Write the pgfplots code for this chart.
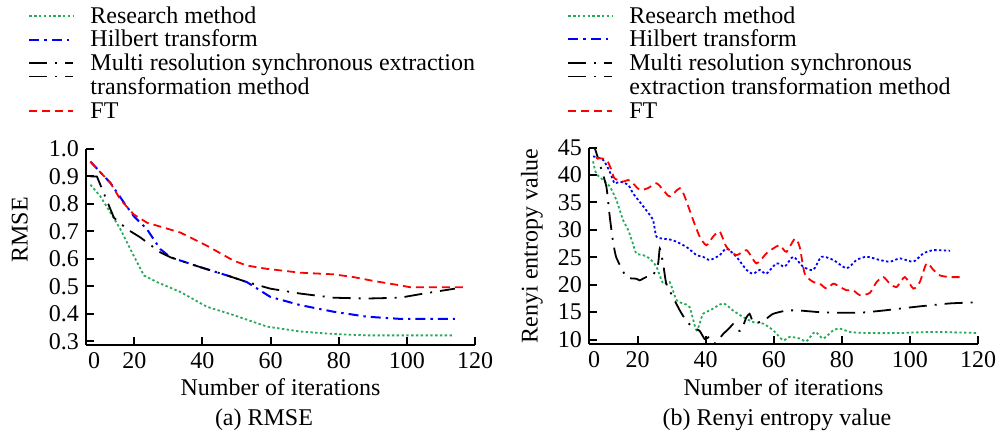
\documentclass[border=0pt]{standalone}
\usepackage{fontspec}
\setmainfont{Liberation Serif}
\usepackage{pgfplots}
\pgfplotsset{compat=1.18}

\definecolor{resgreen}{RGB}{40,170,90}
\newcommand{\ls}{\rule[-3.9pt]{0pt}{12.8pt}}

\pgfplotsset{
  panel/.style={
    scale only axis, width=194.5pt,
    axis lines=left, axis line style={line width=1pt,-},
    tick align=inside, major tick length=4pt,
    tick style={line width=1pt,black},
    xmax=120, xtick={20,40,...,120},
    /pgf/number format/assume math mode=true,
    tick label style={font=\fontsize{12}{12.5}\selectfont},
    label style={font=\fontsize{12}{12.5}\selectfont},
    xlabel={Number of iterations},
    legend style={draw=none, fill=none, inner sep=0pt, row sep=1.5pt, column sep=8pt,
      font=\fontsize{12}{12.8}\selectfont, nodes={inner sep=0pt},
      cells={anchor=west}, anchor=north west},
    legend image code/.code={\draw[#1] (0pt,0pt) -- (22pt,0pt);},
    extra x tick style={major tick length=0pt},
  },
  % legend sample drawn half a row lower, between the two lines of its entry
  lowsample/.style={legend image code/.code={
      \path (0pt,0pt) -- (22pt,0pt);
      \draw[##1, overlay] (0pt,-6.6pt) -- (22pt,-6.6pt);}},
  resm/.style={color=resgreen, line width=0.9pt, dash pattern=on 1.2pt off 1.2pt},
  hilb/.style={color=blue, line width=1pt, dash pattern=on 5pt off 2.5pt on 1.2pt off 2.5pt},
  hilbdot/.style={color=blue, line width=0.9pt, dash pattern=on 1.2pt off 1.2pt},
  mrse/.style={color=black, line width=0.9pt, dash pattern=on 9pt off 4pt on 1pt off 4pt},
  ftm/.style={color=red, line width=0.9pt, dash pattern=on 4pt off 2.5pt},
}

\begin{document}
\begin{tikzpicture}
\useasboundingbox (0,0) rectangle (501.5pt,-218.5pt);

% (a) RMSE
\begin{axis}[panel,
  at={(43pt,-172.5pt)}, anchor=south west,
  height=98pt,
  xmin=5.8, ymin=0.287, ymax=1.0,
  extra x ticks={8.2}, extra x tick labels={0},
  ytick={0.3,0.4,...,1.0},
  yticklabel style={/pgf/number format/.cd, fixed, fixed zerofill, precision=1},
  ylabel={RMSE},
  ylabel style={at={(axis description cs:-0.17,0.587)}, anchor=center},
  xlabel style={at={(axis description cs:0.5,-0.214)}, anchor=center},
  legend style={at={(axis description cs:-0.149,1.735)}},
]
\addlegendimage{resm}\addlegendentry{\ls Research method}
\addlegendimage{hilb}\addlegendentry{\ls Hilbert transform}
\addlegendimage{mrse, lowsample}\addlegendentry{\ls Multi resolution synchronous extraction}
\addlegendimage{empty legend}\addlegendentry{\ls transformation method}
\addlegendimage{ftm}\addlegendentry{\ls FT}
\addplot[resm, forget plot] coordinates {(7.1,0.87)(10,0.828)(13,0.768)(15.9,0.708)(19.8,0.612)(22.8,0.54)(26.6,0.516)(33.5,0.48)(41.3,0.426)(49.1,0.396)(58.9,0.354)(68.7,0.336)(78.5,0.327)(88.2,0.322)(113.6,0.322)};
\addplot[hilb, forget plot] coordinates {(7.1,0.954)(13,0.876)(17,0.804)(19.8,0.756)(23.7,0.708)(27.6,0.636)(30.6,0.606)(39.4,0.57)(47.2,0.54)(53,0.516)(59.9,0.462)(68.7,0.432)(78.5,0.408)(88.2,0.39)(98,0.382)(114.1,0.382)};
\addplot[mrse, forget plot] coordinates {(7.1,0.90)(9,0.90)(10,0.87)(14,0.75)(17.9,0.708)(21.8,0.678)(27.6,0.624)(30.6,0.606)(39.4,0.57)(47.2,0.54)(53,0.516)(59.9,0.492)(68.7,0.474)(78.5,0.459)(88.2,0.456)(98,0.459)(104.9,0.474)(114.1,0.492)};
\addplot[ftm, forget plot] coordinates {(7.1,0.954)(13,0.876)(15.9,0.816)(19.8,0.762)(23.7,0.732)(33.5,0.696)(41.3,0.648)(49.1,0.594)(53,0.576)(58.9,0.564)(68.7,0.55)(78.5,0.544)(84.3,0.534)(90.2,0.52)(98,0.504)(101,0.497)(116.6,0.497)};
\end{axis}

% (b) Renyi entropy value
\begin{axis}[panel,
  at={(294.5pt,-172pt)}, anchor=south west,
  height=98.2pt,
  xmin=5.7, ymin=9.2, ymax=45,
  extra x ticks={7.2}, extra x tick labels={0},
  ytick={10,15,...,45},
  ylabel={Renyi entropy value},
  ylabel style={at={(axis description cs:-0.147,0.5)}, anchor=center},
  xlabel style={at={(axis description cs:0.5,-0.219)}, anchor=center},
  legend style={at={(axis description cs:-0.0566,1.727)}},
]
\addlegendimage{resm}\addlegendentry{\ls Research method}
\addlegendimage{hilb}\addlegendentry{\ls Hilbert transform}
\addlegendimage{mrse, lowsample}\addlegendentry{\ls Multi resolution synchronous}
\addlegendimage{empty legend}\addlegendentry{\ls extraction transformation method}
\addlegendimage{ftm}\addlegendentry{\ls FT}
\addplot[resm, smooth, tension=0.4, forget plot] coordinates {(6.9,42.5)(7.8,40.3)(9.8,39.1)(11.8,37.9)(13.7,35.5)(15.7,31.8)(17.2,30.0)(18.6,27.5)(19.6,25.7)(21.6,25.4)(23.5,24.8)(25.5,23.3)(27.5,20.2)(29.4,20.5)(31.4,17.2)(33.3,16.6)(35.3,15.9)(37.3,11.7)(39.2,14.7)(41.2,15.3)(45.1,16.6)(48,15.3)(51,14.1)(53.9,13.2)(56.9,12.9)(59.8,11.7)(62.7,9.9)(64.7,10.5)(67.6,10.2)(69.6,9.7)(72.1,11.4)(74.5,10.2)(77.5,11.7)(79.4,12.0)(82.4,11.4)(87.3,11.2)(97.1,11.2)(106.9,11.4)(120,11.2)};
\addplot[hilbdot, smooth, tension=0.4, forget plot] coordinates {(6.9,43.4)(9.8,42.8)(11.8,40.6)(13.2,38.5)(14.7,38.8)(17.2,38.2)(18.6,36.7)(20.1,35.5)(22.5,33.6)(24.5,31.8)(25.5,28.8)(27.5,28.4)(30.4,28.1)(34.3,26.9)(37.3,25.4)(39.2,25.1)(41.2,24.5)(44.1,25.4)(46.1,26.6)(49,25.1)(52,22.7)(53.9,22.0)(55.9,22.7)(57.8,22.0)(60.8,23.9)(63.2,23.3)(65.7,25.1)(68.6,23.3)(71.6,22.7)(74,25.1)(77.5,24.5)(81.4,23.0)(84.3,24.5)(87.3,25.1)(91.2,24.5)(94.1,24.2)(97.1,24.8)(101,24.2)(103.9,25.7)(106.9,26.3)(111.8,26.2)};
\addplot[mrse, smooth, tension=0.3, forget plot] coordinates {(5.7,45)(7.3,45)(8.8,42.1)(10.8,37.9)(11.8,32.4)(12.7,28.1)(13.7,25.0)(16.7,21.4)(19.6,21.1)(20.6,20.8)(22.5,21.4)(24.5,21.7)(26,23.8)(26.5,26.6)(27.5,23.8)(28.4,20.2)(30.4,17.7)(32.4,15.3)(34.3,13.4)(36.3,12.2)(38.2,11.6)(39.7,10.1)(41.2,10.5)(42.7,9.3)(45.1,11.0)(47.1,12.2)(48,12.8)(49,11.9)(50.4,11.6)(51.9,14.0)(52.9,14.7)(53.9,13.2)(55.9,13.2)(57.8,13.8)(59.8,14.7)(63.7,15.3)(67.6,15.3)(73.5,15.0)(79.4,14.9)(85.3,14.9)(92.2,15.3)(102,16.0)(111.8,16.6)(120,16.8)};
\addplot[ftm, smooth, tension=0.4, forget plot] coordinates {(7.8,43.1)(10.8,42.8)(12.3,40.9)(13.2,39.4)(15.7,38.8)(17.2,39.1)(18.6,38.5)(20.6,37.3)(23,37.6)(25.5,38.5)(27.5,37.3)(29.4,36.1)(32.4,37.6)(33.8,36.1)(36.3,31.8)(38.2,28.8)(40.2,27.2)(42.2,28.8)(44.1,29.7)(46.1,26.9)(49,25.4)(52,26.3)(54.9,23.9)(57.8,25.7)(59.8,26.6)(61.8,27.2)(63.7,26.0)(66.2,28.4)(67.6,26.9)(69.1,22.0)(71.6,20.5)(73.5,20.2)(75.5,19.3)(77.5,20.2)(79.4,19.6)(81.4,19.0)(83.3,19.0)(85.3,18.1)(88.2,18.5)(90.2,20.5)(92.2,21.4)(94.1,20.2)(96.1,19.6)(98.5,21.4)(101,19.3)(102.9,20.5)(104.9,23.9)(106.9,22.7)(108.8,21.7)(111.8,21.4)(115.7,21.4)};
\end{axis}

\node[font=\fontsize{12}{12.5}\selectfont] at (132pt,-210pt) {(a) RMSE};
\node[font=\fontsize{12}{12.5}\selectfont] at (388.5pt,-210pt) {(b) Renyi entropy value};
\end{tikzpicture}
\end{document}
